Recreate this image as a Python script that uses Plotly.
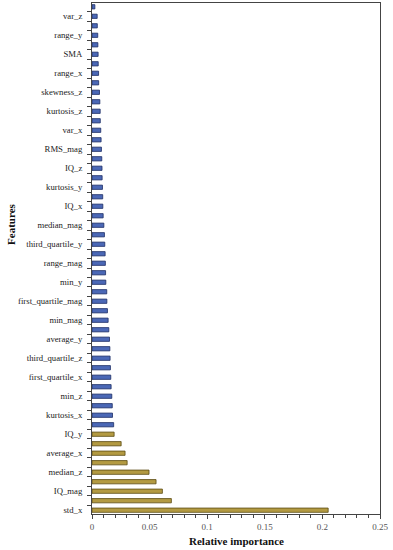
import plotly.graph_objects as go

# Features ordered from top of chart to bottom
features = [
    "energy_x", "var_z", "std_y", "range_y", "std_z", "SMA", "std_mag", "range_x",
    "var_y", "skewness_z", "var_mag", "kurtosis_z", "average_z", "var_x",
    "average_mag", "RMS_mag", "max_x", "IQ_z", "max_y", "kurtosis_y", "max_z", "IQ_x",
    "max_mag", "median_mag", "min_x", "third_quartile_y", "median_x", "range_mag",
    "median_y", "min_y", "first_quartile_y", "first_quartile_mag", "first_quartile_z",
    "min_mag", "third_quartile_x", "average_y", "third_quartile_mag", "third_quartile_z",
    "skewness_x", "first_quartile_x", "skewness_y", "min_z", "skewness_mag", "kurtosis_x",
    "kurtosis_mag", "IQ_y", "RMS_x", "average_x", "RMS_y", "median_z", "RMS_z", "IQ_mag",
    "range_z", "std_x",
]
importance = [
    0.0025, 0.0045, 0.0046, 0.0050, 0.0051, 0.0053, 0.0054, 0.0057,
    0.0058, 0.0065, 0.0068, 0.0071, 0.0072, 0.0076,
    0.0079, 0.0082, 0.0085, 0.0087, 0.0088, 0.0091, 0.0093, 0.0094,
    0.0097, 0.0103, 0.0108, 0.0111, 0.0114, 0.0116,
    0.0118, 0.0120, 0.0128, 0.0129,
    0.0134, 0.0140, 0.0146, 0.0152, 0.0155, 0.0157,
    0.0160, 0.0163, 0.0166, 0.0172, 0.0176, 0.0178,
    0.0188, 0.0192, 0.0253, 0.0287, 0.0305, 0.0495, 0.0556, 0.0611,
    0.0689, 0.2050,
]
# group: "selected" features (olive) vs others (blue)
group = ["other"] * 45 + ["top"] * 9
# Labels displayed on the axis (every other feature)
shown_labels = [
    "var_z", "range_y", "SMA", "range_x", "skewness_z", "kurtosis_z", "var_x",
    "RMS_mag", "IQ_z", "kurtosis_y", "IQ_x", "median_mag", "third_quartile_y",
    "range_mag", "min_y", "first_quartile_mag", "min_mag", "average_y",
    "third_quartile_z", "first_quartile_x", "min_z", "kurtosis_x", "IQ_y",
    "average_x", "median_z", "IQ_mag", "std_x",
]
x_ticks = [0, 0.05, 0.1, 0.15, 0.2, 0.25]
x_ticktext = ["0", "0.05", "0.1", "0.15", "0.2", "0.25"]

n = len(features)
pos = [n - 1 - i for i in range(n)]  # top item gets highest position

fill = {"other": "#4b68b6", "top": "#b39a42"}
edge = {"other": "#1e2f66", "top": "#5b4a12"}

fig = go.Figure()
for g in ["other", "top"]:
    idx = [i for i in range(n) if group[i] == g]
    fig.add_trace(go.Bar(
        x=[importance[i] for i in idx],
        y=[pos[i] for i in idx],
        orientation="h",
        width=0.45,
        marker=dict(color=fill[g], line=dict(color=edge[g], width=0.8)),
        showlegend=False,
        hovertext=[features[i] for i in idx],
    ))

label_pos = [pos[features.index(s)] for s in shown_labels]

font_family = "Liberation Serif, Times New Roman, serif"
fig.update_layout(
    width=393, height=550,
    margin=dict(l=92, r=13, t=3, b=36, autoexpand=False),
    paper_bgcolor="white", plot_bgcolor="white",
    font=dict(family=font_family, size=9, color="#222"),
    xaxis=dict(
        range=[0, 0.25],
        tickvals=x_ticks, ticktext=x_ticktext,
        ticks="outside", ticklen=4, tickcolor="#444",
        minor=dict(dtick=0.01, tick0=0, ticks="outside", ticklen=3, tickcolor="#444", showgrid=False),
        showgrid=False, zeroline=False,
        showline=True, linecolor="#444", linewidth=1, mirror=True,
        tickfont=dict(size=9, color="#555"),
        automargin=False,
    ),
    yaxis=dict(
        range=[-0.4, n - 1 + 0.4],
        tickvals=label_pos, ticktext=shown_labels,
        ticks="outside", ticklen=0,
        ticklabelstandoff=7,
        minor=dict(tick0=0.5, dtick=1, ticks="outside", ticklen=4, tickcolor="#444", showgrid=False),
        showgrid=False, zeroline=False,
        showline=True, linecolor="#444", linewidth=1, mirror=True,
        tickfont=dict(size=8.7, color="#222"),
        automargin=False,
    ),
    annotations=[
        dict(text="<b>Relative importance</b>", xref="paper", yref="paper",
             x=0.5, y=-0.053, xanchor="center", yanchor="middle", showarrow=False,
             font=dict(size=11, color="#111", family=font_family)),
        dict(text="<b>Features</b>", xref="paper", yref="paper",
             x=-0.279, y=0.567, xanchor="center", yanchor="middle", showarrow=False,
             textangle=-90, font=dict(size=11, color="#111", family=font_family)),
    ],
)

fig.write_html("out.html", config={"displayModeBar": False},
               post_script="document.body.style.margin='0px';")
